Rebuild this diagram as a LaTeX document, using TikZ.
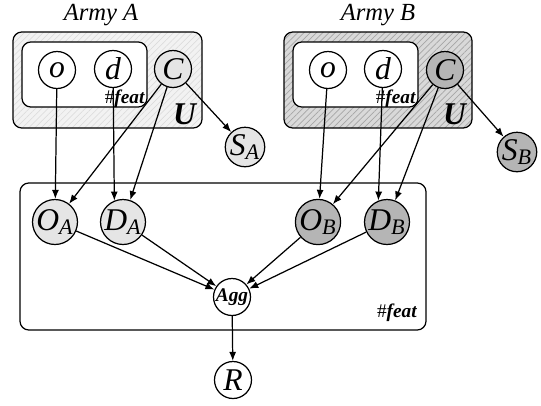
\documentclass[tikz,border=0pt]{standalone}
\usepackage{fontspec}
\setmainfont{Liberation Serif}
\usepackage{xcolor}
\usetikzlibrary{arrows.meta, calc, patterns.meta}

\begin{document}
\begin{tikzpicture}[>={Latex[length=1.8mm, width=1.4mm]}, line width=0.7pt,
  var/.style={draw, circle, minimum size=0.74cm, inner sep=0pt, fill=white, font=\fontsize{18}{18}\selectfont\itshape},
  lightvar/.style={var, fill=gray!20},
  darkvar/.style={var, fill=gray!58},
  plate/.style={draw, rounded corners=5pt, inner sep=0pt},
  conn/.style={->, line width=0.7pt}]
  \useasboundingbox (0,0) rectangle (10.82,-8.1);
  % army plates
  \node[plate, minimum width=3.78cm, minimum height=1.92cm, preaction={fill=gray!10}, pattern={Lines[angle=45, distance=2.5pt, line width=0.3pt]}, pattern color=gray!30] (plateA) at (2.15,-1.60) {};
  \node[plate, minimum width=3.76cm, minimum height=1.92cm, preaction={fill=gray!30}, pattern={Lines[angle=45, distance=2.5pt, line width=0.4pt]}, pattern color=gray!70] (plateB) at (7.56,-1.60) {};
  \node[plate, fill=white, minimum width=2.50cm, minimum height=1.30cm] (featA) at (1.69,-1.49) {};
  \node[plate, fill=white, minimum width=2.50cm, minimum height=1.30cm] (featB) at (7.11,-1.49) {};
  \node[plate, minimum width=8.12cm, minimum height=2.94cm] (plateF) at (4.46,-5.13) {};
  \node[font=\fontsize{14}{14}\selectfont\itshape] (armyA) at (2.02,-0.30) {Army A};
  \node[font=\fontsize{14}{14}\selectfont\itshape] (armyB) at (7.56,-0.30) {Army B};
  \node[anchor=base east, inner sep=0pt, font=\fontsize{11}{11}\selectfont] (hashA) at ($(featA.south east)+(-0.04,0.08)$) {\#\textbf{\textit{feat}}};
  \node[anchor=base east, inner sep=0pt, font=\fontsize{11}{11}\selectfont] (hashB) at ($(featB.south east)+(-0.04,0.08)$) {\#\textbf{\textit{feat}}};
  \node[anchor=south east, inner sep=1pt, font=\fontsize{18}{18}\selectfont\bfseries\itshape] (uA) at ($(plateA.south east)+(-0.08,0.02)$) {U};
  \node[anchor=south east, inner sep=1pt, font=\fontsize{18}{18}\selectfont\bfseries\itshape] (uB) at ($(plateB.south east)+(-0.08,0.02)$) {U};
  \node[anchor=south east, inner sep=1pt, font=\fontsize{11}{11}\selectfont] (hashF) at ($(plateF.south east)+(-0.14,0.14)$) {\#\textbf{\textit{feat}}};
  % variables
  \node[var] (oA) at (1.14,-1.40) {o};
  \node[var] (dA) at (2.26,-1.38) {d};
  \node[lightvar] (cA) at (3.46,-1.38) {C};
  \node[lightvar] (sA) at (4.90,-2.94) {S\textsubscript{A}};
  \node[var] (oB) at (6.56,-1.40) {o};
  \node[var] (dB) at (7.66,-1.38) {d};
  \node[darkvar] (cB) at (8.90,-1.40) {C};
  \node[darkvar] (sB) at (10.34,-3.04) {S\textsubscript{B}};
  \node[lightvar] (OA) at (1.10,-4.44) {O\textsubscript{A}};
  \node[lightvar] (DA) at (2.46,-4.44) {D\textsubscript{A}};
  \node[darkvar] (OB) at (6.36,-4.44) {O\textsubscript{B}};
  \node[darkvar] (DB) at (7.74,-4.44) {D\textsubscript{B}};
  \node[var, font=\fontsize{11}{11}\selectfont\bfseries\itshape] (agg) at (4.64,-5.94) {Agg};
  \node[var] (R) at (4.66,-7.60) {R};
  % edges
  \draw[conn] (oA) -- (OA);
  \draw[conn] (dA) -- (DA.112);
  \draw[conn] (cA) -- (OA);
  \draw[conn] (cA) -- (DA);
  \draw[conn] (cA) -- (sA);
  \draw[conn] (oB) -- (OB);
  \draw[conn] (dB) -- (DB.112);
  \draw[conn] (cB) -- (OB);
  \draw[conn] (cB) -- (DB);
  \draw[conn] (cB) -- (sB);
  \draw[conn] (OA) -- (agg);
  \draw[conn] (DA) -- (agg);
  \draw[conn] (OB) -- (agg);
  \draw[conn] (DB) -- (agg);
  \draw[conn] (agg) -- (R);
\end{tikzpicture}
\end{document}
